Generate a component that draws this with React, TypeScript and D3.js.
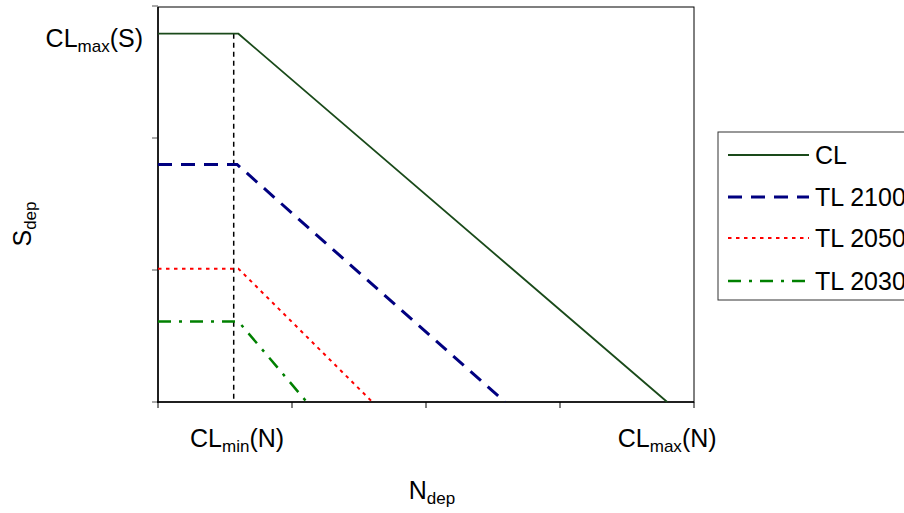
import React from "react";
import * as d3 from "d3";

const xTicks = [0, 1, 2, 3, 4];
const yTicks = [0, 1, 2, 3];

const clX = [0, 0.6, 3.8];
const clY = [2.79, 2.79, 0];
const tl2100X = [0, 0.59, 2.59];
const tl2100Y = [1.8, 1.8, 0];
const tl2050X = [0, 0.6, 1.6];
const tl2050Y = [1.01, 1.01, 0];
const tl2030X = [0, 0.6, 1.11];
const tl2030Y = [0.61, 0.61, 0];
const clMinX = 0.565;
const clMaxX = 3.8;
const clMaxS = 2.79;

const seriesNames = ["CL", "TL 2100", "TL 2050", "TL 2030"];

export default function App() {
  const W = 904, H = 513;
  const left = 158, right = 694, top = 6, bottom = 402;
  const x = d3.scaleLinear().domain([0, 4]).range([left, right]);
  const y = d3.scaleLinear().domain([0, 3]).range([bottom, top]);
  const line = d3.line<[number, number]>().x(d => x(d[0])).y(d => y(d[1]));
  const zip = (a: number[], b: number[]) => a.map((v, i) => [v, b[i]] as [number, number]);

  const series = [
    { name: seriesNames[0], d: zip(clX, clY), color: "#1a4a1a", width: 1.8, dash: "" },
    { name: seriesNames[1], d: zip(tl2100X, tl2100Y), color: "#000080", width: 3, dash: "14 9" },
    { name: seriesNames[2], d: zip(tl2050X, tl2050Y), color: "#ff0000", width: 2, dash: "3.5 4.5" },
    { name: seriesNames[3], d: zip(tl2030X, tl2030Y), color: "#008000", width: 2.5, dash: "13 8 3 8" },
  ];
  const font = "'Liberation Sans', Arial, sans-serif";
  const legRows = [155, 197, 238, 281];
  const fs = 25, sfs = 17;

  return (
    <svg width={W} height={H} style={{ position: "absolute", left: 0, top: 0, fontFamily: font }}>
      <rect x={0} y={0} width={W} height={H} fill="#fff" />
      <rect x={left} y={top + 1} width={right - left} height={bottom - top - 1} fill="none" stroke="#000" strokeWidth={1} />
      {yTicks.map(t => (
        <line key={"y" + t} x1={left - 6} x2={left} y1={y(t)} y2={y(t)} stroke="#555" strokeWidth={1} />
      ))}
      {xTicks.map(t => (
        <line key={"x" + t} x1={x(t)} x2={x(t)} y1={bottom} y2={bottom + 6} stroke="#000" strokeWidth={1} />
      ))}
      <line x1={left} x2={left} y1={top + 1} y2={bottom + 1} stroke="#000" strokeWidth={1.5} />
      <line x1={left - 1} x2={right} y1={bottom} y2={bottom} stroke="#000" strokeWidth={1.5} />
      <line x1={x(clMinX)} x2={x(clMinX)} y1={y(clMaxS)} y2={y(0)} stroke="#000" strokeWidth={1.5} strokeDasharray="5 4" />
      {series.map(s => (
        <path key={s.name} d={line(s.d) || ""} fill="none" stroke={s.color} strokeWidth={s.width} strokeDasharray={s.dash} />
      ))}
      <rect x={718} y={132} width={200} height={168} fill="#fff" stroke="#333" strokeWidth={1} />
      {series.map((s, i) => (
        <g key={"leg" + i}>
          <line x1={728} x2={809} y1={legRows[i]} y2={legRows[i]} stroke={s.color} strokeWidth={s.width} strokeDasharray={s.dash} />
          <text x={815} y={legRows[i] + 9} fontSize={fs} fill="#000">{s.name}</text>
        </g>
      ))}
      <text x={143} y={47} fontSize={fs} textAnchor="end">
        CL<tspan fontSize={sfs} dy={5}>max</tspan><tspan dy={-5}>(S)</tspan>
      </text>
      <text x={x(0.59)} y={447} fontSize={fs} textAnchor="middle">
        CL<tspan fontSize={sfs} dy={5}>min</tspan><tspan dy={-5}>(N)</tspan>
      </text>
      <text x={x(clMaxX)} y={447} fontSize={fs} textAnchor="middle">
        CL<tspan fontSize={sfs} dy={5}>max</tspan><tspan dy={-5}>(N)</tspan>
      </text>
      <text x={432} y={499} fontSize={fs} textAnchor="middle">
        N<tspan fontSize={sfs} dy={5}>dep</tspan>
      </text>
      <text transform="translate(31,224) rotate(-90)" fontSize={fs} textAnchor="middle">
        S<tspan fontSize={sfs} dy={5}>dep</tspan>
      </text>
    </svg>
  );
}
